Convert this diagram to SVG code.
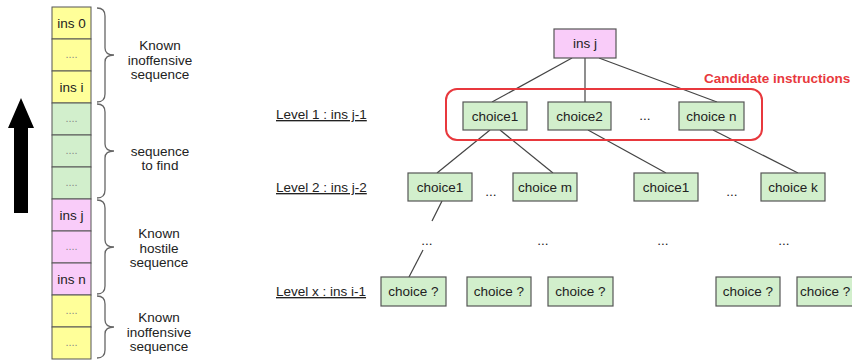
<svg xmlns="http://www.w3.org/2000/svg" width="852" height="363" viewBox="0 0 852 363">
<style>
text{font-family:"Liberation Sans",Arial,sans-serif;font-size:13.5px;fill:#222}
.c{text-anchor:middle}
.cell{stroke:#555;stroke-width:1}
.y{fill:#ffff99}.g{fill:#d2efcc}.p{fill:#f9ccf9}
.box{fill:#d2efcc;stroke:#555;stroke-width:1.2}
.brace{fill:none;stroke:#666;stroke-width:1.3}
.edge{stroke:#444;stroke-width:1.2;fill:none}
.dots{font-size:11px;fill:#888}
.lvl{text-decoration:underline}
</style>
<rect width="852" height="363" fill="#fff"/>
<g id="arrow"><polygon points="21,98 34,128 28,128 28,213 14,213 14,128 8,128" fill="#000"/></g>
<g id="stack">
<rect class="cell y" x="52" y="7" width="39" height="32"/><text class="c" x="71.5" y="28">ins 0</text>
<rect class="cell y" x="52" y="39" width="39" height="32"/><text class="c dots" x="71.5" y="58">....</text>
<rect class="cell y" x="52" y="71" width="39" height="32"/><text class="c" x="71.5" y="92">ins i</text>
<rect class="cell g" x="52" y="103" width="39" height="32"/><text class="c dots" x="71.5" y="122">....</text>
<rect class="cell g" x="52" y="135" width="39" height="32"/><text class="c dots" x="71.5" y="154">....</text>
<rect class="cell g" x="52" y="167" width="39" height="32"/><text class="c dots" x="71.5" y="186">....</text>
<rect class="cell p" x="52" y="199" width="39" height="32"/><text class="c" x="71.5" y="220">ins j</text>
<rect class="cell p" x="52" y="231" width="39" height="32"/><text class="c dots" x="71.5" y="250">....</text>
<rect class="cell p" x="52" y="263" width="39" height="32"/><text class="c" x="71.5" y="284">ins n</text>
<rect class="cell y" x="52" y="295" width="39" height="32"/><text class="c dots" x="71.5" y="314">....</text>
<rect class="cell y" x="52" y="327" width="39" height="32"/><text class="c dots" x="71.5" y="346">....</text>
</g>
<g id="brace1"><path class="brace" d="M97,8 Q105,8 105,16 L105,48 Q105,55 114,55 Q105,55 105,62 L105,94 Q105,102 97,102"/>
<text class="c" x="160" y="50">Known</text><text class="c" x="160" y="65">inoffensive</text><text class="c" x="160" y="79">sequence</text></g>
<g id="brace2"><path class="brace" d="M97,104 Q105,104 105,112 L105,144 Q105,151 114,151 Q105,151 105,158 L105,190 Q105,198 97,198"/>
<text class="c" x="160" y="156">sequence</text><text class="c" x="160" y="170">to find</text></g>
<g id="brace3"><path class="brace" d="M97,200 Q105,200 105,208 L105,240 Q105,247 114,247 Q105,247 105,254 L105,286 Q105,294 97,294"/>
<text class="c" x="159" y="238">Known</text><text class="c" x="159" y="253">hostile</text><text class="c" x="159" y="267">sequence</text></g>
<g id="brace4"><path class="brace" d="M97,296 Q105,296 105,304 L105,320 Q105,327 114,327 Q105,327 105,334 L105,350 Q105,358 97,358"/>
<text class="c" x="159" y="322">Known</text><text class="c" x="159" y="337">inoffensive</text><text class="c" x="159" y="351">sequence</text></g>
<g id="levels">
<text class="lvl" x="276" y="119">Level 1 : ins j-1</text>
<text class="lvl" x="276" y="192">Level 2 : ins j-2</text>
<text class="lvl" x="276" y="296">Level x : ins i-1</text>
</g>
<g id="connectors">
<line class="edge" x1="572" y1="58" x2="492" y2="102"/>
<line class="edge" x1="585" y1="58" x2="585" y2="102"/>
<line class="edge" x1="599" y1="58" x2="717" y2="102"/>
<line class="edge" x1="490" y1="130" x2="437" y2="173"/>
<line class="edge" x1="500" y1="130" x2="553" y2="173"/>
<line class="edge" x1="588" y1="130" x2="666" y2="173"/>
<line class="edge" x1="713" y1="130" x2="798" y2="173"/>
<line class="edge" x1="442" y1="201" x2="432" y2="221"/>
<line class="edge" x1="423" y1="250" x2="409" y2="277"/>
</g>
<g id="candidates"><rect x="446" y="89" width="316" height="51" rx="11" fill="none" stroke="#e8383d" stroke-width="2"/>
<text x="704" y="83" style="font-weight:bold;fill:#e8383d;font-size:13.5px">Candidate instructions</text></g>
<g id="insj"><rect x="554" y="29" width="62" height="29" fill="#f9ccf9" stroke="#555" stroke-width="1.2"/><text class="c" x="585" y="48">ins j</text></g>
<g id="l1a"><rect class="box" x="463" y="102" width="64" height="28"/><text class="c" x="495" y="121">choice1</text></g>
<g id="l1b"><rect class="box" x="548" y="102" width="63" height="28"/><text class="c" x="579.5" y="121">choice2</text></g>
<text class="c" x="645" y="120">...</text>
<g id="l1n"><rect class="box" x="679" y="102" width="65" height="28"/><text class="c" x="711.5" y="121">choice n</text></g>
<g id="l2a"><rect class="box" x="408" y="173" width="64" height="28"/><text class="c" x="440" y="192">choice1</text></g>
<text class="c" x="491" y="196">...</text>
<g id="l2m"><rect class="box" x="513" y="173" width="64" height="28"/><text class="c" x="545" y="192">choice m</text></g>
<g id="l2c"><rect class="box" x="634" y="173" width="64" height="28"/><text class="c" x="666" y="192">choice1</text></g>
<text class="c" x="732" y="196">...</text>
<g id="l2k"><rect class="box" x="761" y="173" width="64" height="28"/><text class="c" x="793" y="192">choice k</text></g>
<g id="mid">
<text class="c" x="427" y="245">...</text><text class="c" x="543" y="245">...</text><text class="c" x="663" y="245">...</text><text class="c" x="784" y="245">...</text>
</g>
<g id="lx1"><rect class="box" x="381" y="277" width="65" height="29"/><text class="c" x="413.5" y="296">choice ?</text></g>
<g id="lx2"><rect class="box" x="467" y="277" width="64" height="29"/><text class="c" x="499" y="296">choice ?</text></g>
<g id="lx3"><rect class="box" x="548" y="277" width="65" height="29"/><text class="c" x="580.5" y="296">choice ?</text></g>
<g id="lx4"><rect class="box" x="716" y="277" width="64" height="29"/><text class="c" x="748" y="296">choice ?</text></g>
<g id="lx5"><rect class="box" x="797" y="277" width="64" height="29"/><text x="800" y="296">choice ?</text></g>
</svg>
